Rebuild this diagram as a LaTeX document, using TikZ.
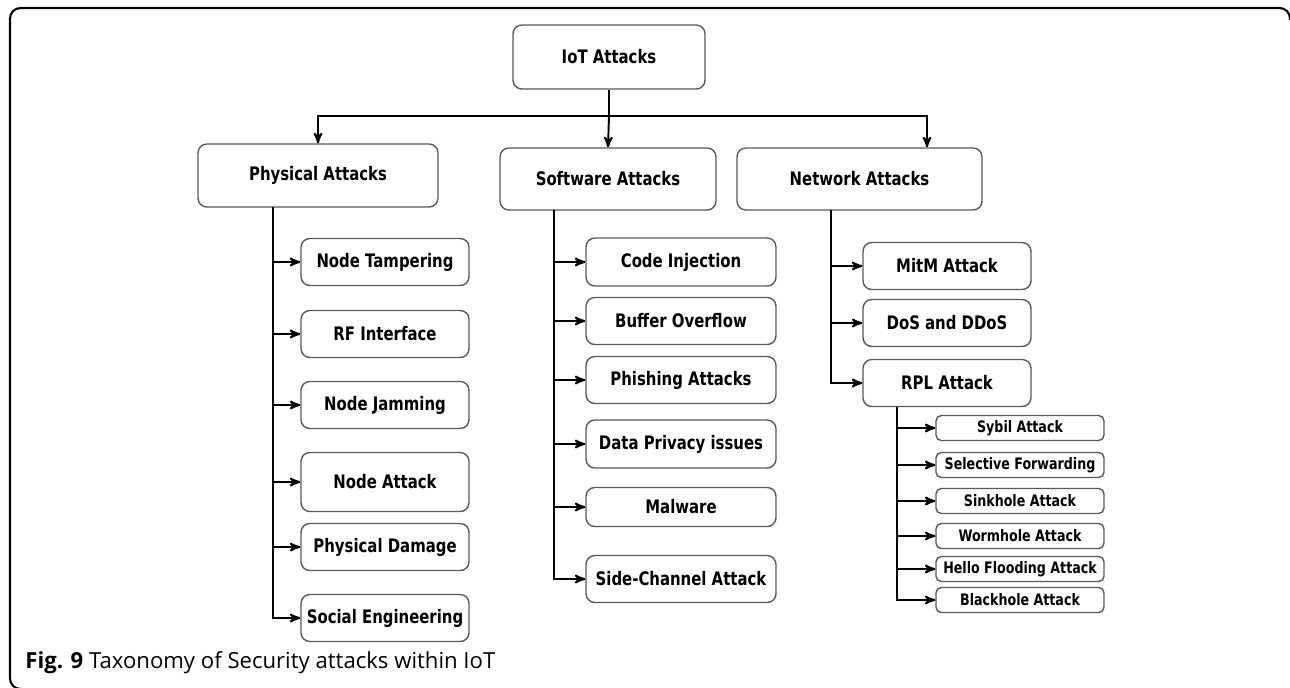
\documentclass[tikz,border=0pt]{standalone}
\usepackage{fontspec}
\usepackage{tikz}
\usetikzlibrary{arrows}
\usetikzlibrary{positioning}
\newfontfamily\boxfont[FakeStretch=0.8]{DejaVu Sans}
\newfontfamily\capfont{Open Sans}

\tikzset{
  box/.style={draw=black!65, line width=0.8pt, rounded corners=5pt, fill=white,
    font=\boxfont\bfseries\fontsize{10.6}{12}\selectfont, align=center, inner sep=0pt},
  leaf/.style={box, minimum width=3.36cm, minimum height=0.94cm},
  tiny/.style={box, rounded corners=3pt, minimum width=3.36cm, minimum height=0.5cm,
    font=\boxfont\bfseries\fontsize{9}{10}\selectfont},
  arr/.style={->, >=stealth', line width=1.1pt},
  lin/.style={line width=1.1pt}
}

\begin{document}
\begin{tikzpicture}[x=0.02cm, y=-0.02cm]
 \useasboundingbox (0,0) rectangle (1290,687);
 \clip (0,0) rectangle (1290,687);
 % frame
 \draw[line width=1.2pt, rounded corners=6pt] (22,689) -- (10,689) -- (10,8) -- (1290,8) -- (1290,20);

 \node[box, minimum width=3.84cm, minimum height=1.28cm] (iot) at (609,57) {IoT Attacks};

 %level 2
 \node[box, minimum width=4.8cm, minimum height=1.26cm] (phys) at (318,175.5) {Physical Attacks};
 \node[box, minimum width=4.32cm, minimum height=1.24cm] (soft) at (608,179) {Software Attacks};
 \node[box, minimum width=4.9cm, minimum height=1.24cm] (net) at (859.5,179) {Network Attacks};

 \coordinate (split) at (609,116);
 \draw[lin] (iot.south) -- (split);
 \draw[arr] (split) -| (phys.north);
 \draw[arr] (split) -- (soft.north);
 \draw[arr] (split) -| (net.north -| 927,0);

 %level 3
 \coordinate (physT) at (273,207);
 \foreach \y/\n/\h/\name in {262/pa/0.94/Node Tampering, 334/pb/0.94/RF Interface, 405/pc/0.94/Node Jamming,
     482/pd/1.18/Node Attack, 547/pe/0.94/Physical Damage, 618/pf/0.94/Social Engineering} {
   \node[leaf, minimum height=\h cm] (\n) at (385,\y) {\name};
   \draw[arr] (physT) |- (\n.west);
 }

 \coordinate (softT) at (554,210);
 \foreach \y/\n/\h/\name in {262/sa/0.96/Code Injection, 321/sb/0.94/Buffer Overflow, 380/sc/0.94/Phishing Attacks,
     444/sd/0.96/Data Privacy issues, 507/se/0.78/Malware, 579/sf/0.94/Side-Channel Attack} {
   \node[leaf, minimum width=3.8cm, minimum height=\h cm] (\n) at (681,\y) {\name};
   \draw[arr] (softT) |- (\n.west);
 }

 \coordinate (netT) at (831,210);
 \foreach \y/\n/\name in {266/na/MitM Attack, 323/nb/DoS and DDoS, 383/rpl/RPL Attack} {
   \node[leaf] (\n) at (947,\y) {\name};
   \draw[arr] (netT) |- (\n.west);
 }

 %level 4
 \coordinate (rplT) at (897,407);
 \foreach \y/\n/\name in {428/ra/Sybil Attack, 465/rb/Selective Forwarding, 501/rc/Sinkhole Attack,
     536/rd/Wormhole Attack, 569/re/Hello Flooding Attack, 600/rf/Blackhole Attack} {
   \node[tiny] (\n) at (1020,\y) {\name};
   \draw[arr] (rplT) |- (\n.west);
 }

 % caption
 \node[anchor=west, inner sep=0pt, font=\capfont\fontsize{12.6}{14}\selectfont] (cap) at (25,663)
   {\textbf{Fig. 9} Taxonomy of Security attacks within IoT};
\end{tikzpicture}
\end{document}
